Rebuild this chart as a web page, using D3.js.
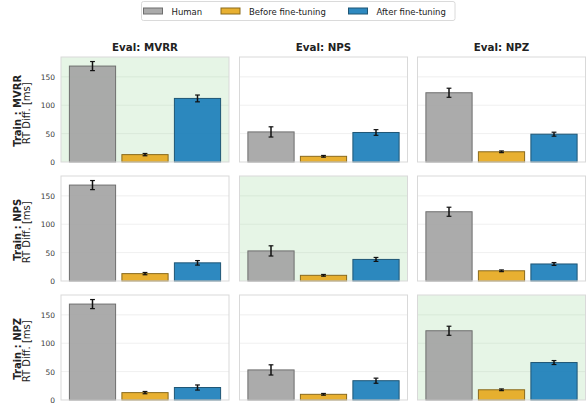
<!DOCTYPE html>
<html>
<head>
<meta charset="utf-8">
<script src="https://cdn.jsdelivr.net/npm/d3@7"></script>
<style>
  html, body { margin: 0; padding: 0; background: #fff; }
  svg text { font-family: "DejaVu Sans", sans-serif; }
</style>
</head>
<body>
<svg id="chart" width="586" height="408"></svg>
<script>
// Conditions: rows are the training set, columns the evaluation set
const evalSets = ["MVRR", "NPS", "NPZ"];
const trainSets = ["MVRR", "NPS", "NPZ"];
const seriesNames = ["Human", "Before fine-tuning", "After fine-tuning"];
const seriesFill = ["#a2a2a2", "#e6a71b", "#177cb9"];
const seriesEdge = ["#6e6e6e", "#8a6a1c", "#1f5675"];

// Mean RT difference [ms] and error half-width, per evaluation set
const humanMean = [169, 53, 122];
const humanErr = [8, 9, 8];
const beforeMean = [13, 10, 18];
const beforeErr = [2, 1.5, 1.5];
// After fine-tuning: afterMean[train][eval]
const afterMean = [
  [112, 52, 49],
  [32, 38, 30],
  [22, 34, 66]
];
const afterErr = [
  [6, 5, 3.5],
  [4, 3.5, 2.5],
  [4.5, 4.5, 3.5]
];
const yTicks = [0, 50, 100, 150];

const svg = d3.select("#chart");
const panelW = 168, panelH = 105;
const colX = [61, 239.5, 417.5];
const rowY = [57, 176, 295];

const x = d3.scaleLinear().domain([-0.6, 2.6]).range([0, panelW]);
const y = d3.scaleLinear().domain([0, 185]).range([panelH, 0]);
const barW = x(0.88) - x(0);

trainSets.forEach((tr, r) => {
  evalSets.forEach((ev, c) => {
    const g = svg.append("g").attr("transform", `translate(${colX[c]},${rowY[r]})`);
    const matched = r === c;
    g.append("rect")
      .attr("width", panelW).attr("height", panelH)
      .attr("fill", matched ? "#e6f5e6" : "#ffffff");

    // horizontal grid
    g.selectAll("line.grid").data(yTicks.slice(1)).join("line")
      .attr("class", "grid")
      .attr("x1", 0).attr("x2", panelW)
      .attr("y1", d => y(d)).attr("y2", d => y(d))
      .attr("stroke", matched ? "#d6e6d6" : "#ebebeb").attr("stroke-width", 0.8);

    const bars = [
      { m: humanMean[c], e: humanErr[c] },
      { m: beforeMean[c], e: beforeErr[c] },
      { m: afterMean[r][c], e: afterErr[r][c] }
    ];

    g.selectAll("rect.bar").data(bars).join("rect")
      .attr("class", "bar")
      .attr("x", (d, i) => x(i) - barW / 2)
      .attr("y", d => y(d.m))
      .attr("width", barW)
      .attr("height", d => y(0) - y(d.m))
      .attr("fill", (d, i) => seriesFill[i])
      .attr("fill-opacity", 0.9)
      .attr("stroke", (d, i) => seriesEdge[i])
      .attr("stroke-width", 1);

    // error bars
    const eb = g.selectAll("g.err").data(bars).join("g").attr("class", "err");
    eb.append("line")
      .attr("x1", (d, i) => x(i)).attr("x2", (d, i) => x(i))
      .attr("y1", d => y(d.m + d.e)).attr("y2", d => y(d.m - d.e))
      .attr("stroke", "#111").attr("stroke-width", 1.5);
    [1, -1].forEach(s => {
      eb.append("line")
        .attr("x1", (d, i) => x(i) - 2.4).attr("x2", (d, i) => x(i) + 2.4)
        .attr("y1", d => y(d.m + s * d.e)).attr("y2", d => y(d.m + s * d.e))
        .attr("stroke", "#111").attr("stroke-width", 1.2);
    });

    // panel frame
    g.append("rect")
      .attr("width", panelW).attr("height", panelH)
      .attr("fill", "none").attr("stroke", "#d9d9d9").attr("stroke-width", 1);

    if (c === 0) {
      const axis = d3.axisLeft(y).tickValues(yTicks).tickSize(0).tickPadding(6);
      const ag = g.append("g").call(axis);
      ag.select(".domain").remove();
      ag.selectAll("text").attr("font-size", 7.5).attr("fill", "#3a3a3a")
        .style("font-family", "'DejaVu Sans', sans-serif");

      // two-line row label: training set (bold) over the y quantity
      g.append("text")
        .attr("transform", `translate(${20.5 - colX[0]},${panelH / 2 + 1.3}) rotate(-90)`)
        .attr("text-anchor", "middle").attr("font-size", 10)
        .attr("font-weight", "bold").attr("fill", "#222")
        .text(`Train : ${tr}`);
      g.append("text")
        .attr("transform", `translate(${29.5 - colX[0]},${panelH / 2 + 3.8}) rotate(-90)`)
        .attr("text-anchor", "middle").attr("font-size", 10).attr("fill", "#222")
        .text("RT Diff. [ms]");
    }
    if (r === 0) {
      g.append("text")
        .attr("x", panelW / 2).attr("y", -6.5)
        .attr("text-anchor", "middle").attr("font-size", 10.3)
        .attr("font-weight", "bold").attr("fill", "#222")
        .text(`Eval: ${ev}`);
    }
  });
});

// legend
const leg = svg.append("g").attr("transform", "translate(141.5,1.5)");
leg.append("rect").attr("width", 313.5).attr("height", 19).attr("rx", 2)
  .attr("fill", "#fff").attr("stroke", "#d0d0d0").attr("stroke-width", 0.8);
const legX = [2, 79.5, 207];
seriesNames.forEach((name, i) => {
  const it = leg.append("g").attr("transform", `translate(${legX[i]},0)`);
  it.append("rect").attr("x", 0).attr("y", 6.5).attr("width", 19).attr("height", 6)
    .attr("fill", seriesFill[i]).attr("fill-opacity", 0.9)
    .attr("stroke", seriesEdge[i]).attr("stroke-width", 1);
  it.append("text").attr("x", 28).attr("y", 13).attr("font-size", 8.5)
    .attr("fill", "#222").text(name);
});
</script>
</body>
</html>
